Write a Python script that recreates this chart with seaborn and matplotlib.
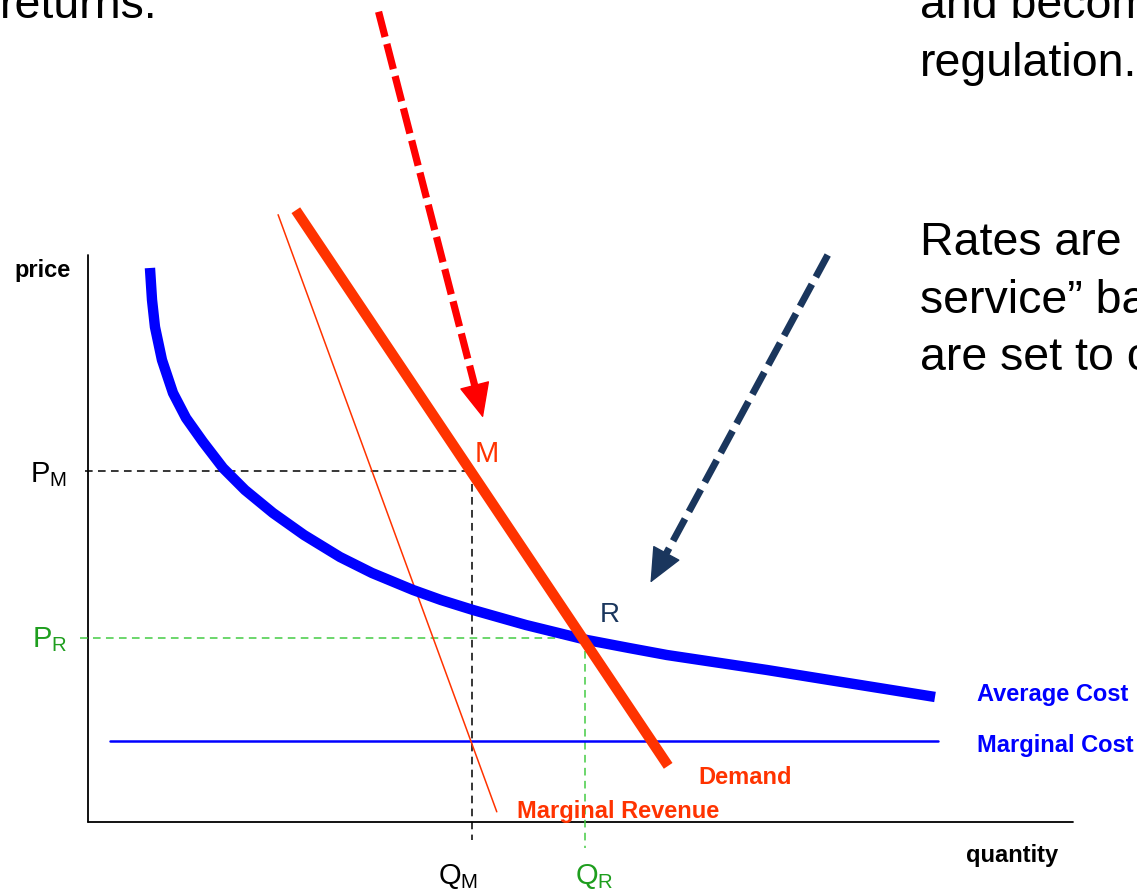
#!/usr/bin/env python3
# plot.py
# ---------------------------------------------------------
# Natural monopoly diagram: average cost, marginal cost,
# demand and marginal revenue, with monopoly point M and
# regulated point R.
# ---------------------------------------------------------

import numpy as np
import pandas as pd
import seaborn as sns
import matplotlib.pyplot as plt

sns.set_theme(style="white")
plt.rcParams['font.family'] = ['Liberation Sans', 'DejaVu Sans']
plt.rcParams['mathtext.fontset'] = 'custom'
plt.rcParams['mathtext.rm'] = 'Liberation Sans'

# --- Data (quantity / price units) ---
ac_q = [6.29, 6.50, 6.80, 7.51, 8.63, 9.95, 11.68, 13.71, 15.94, 18.78, 21.93,
        25.58, 28.83, 33.00, 35.84, 39.09, 44.47, 50.66, 54.92, 58.78, 68.93,
        77.16, 85.99]
ac_p = [97.71, 92.06, 87.30, 81.48, 75.66, 71.25, 67.02, 62.43, 58.55, 54.50,
        50.62, 46.74, 43.92, 40.92, 39.15, 37.39, 34.74, 32.10, 30.69, 29.45,
        26.81, 24.51, 22.05]

demand_q = [21.1, 58.9]
demand_p = [107.9, 9.9]

mr_q = [19.3, 41.5]
mr_p = [107.1, 1.8]

mc_q = [2.2, 86.3]
mc_level = 14.3

q_m, p_m = 39.0, 61.9      # monopoly point M
q_r, p_r = 50.5, 32.5      # regulated point R

axis_max_q, axis_max_p = 100, 100

red_arrow = {'q': [29.5, 40.1], 'p': [142.9, 71.3]}
navy_arrow = {'q': [75.1, 57.1], 'p': [100.0, 42.2]}

# --- Colours ---
BLUE = '#0000FF'
ORANGE = '#FF3300'
RED = '#FF0000'
NAVY = '#1A365D'
GREEN_TXT = '#1E9E1E'
GREEN_DASH = '#44CC44'

W, H = 1137, 891
fig = plt.figure(figsize=(W / 100, H / 100), dpi=100)
ax = fig.add_axes([0, 0, 1, 1])
# origin of the diagram sits at pixel (88, 822); 9.85 px per q unit, 5.67 px per p unit
ax.set_xlim(-88 / 9.85, (W - 88) / 9.85)
ax.set_ylim(-(H - 822) / 5.67, 822 / 5.67)
ax.axis('off')


def line(q, p, **kw):
    df = pd.DataFrame({'q': q, 'p': p})
    sns.lineplot(data=df, x='q', y='p', sort=False, estimator=None, ax=ax,
                 legend=False, **kw)
    return ax.lines[-1]


def dashed(q, p, color, lw):
    ln = line(q, p, color=color, lw=lw)
    ln.set_linestyle((0, (5, 3.5)))


def arrow(data, color, lw, dashes, head_frac):
    q = np.array(data['q'])
    p = np.array(data['p'])
    base_q = q[1] + (q[0] - q[1]) * head_frac
    base_p = p[1] + (p[0] - p[1]) * head_frac
    ln = line([q[0], base_q], [p[0], base_p], color=color, lw=lw)
    ln.set_linestyle((0, dashes))
    ln.set_dash_capstyle('butt')
    ax.annotate('', xy=(q[1], p[1]), xytext=(base_q, base_p),
                arrowprops=dict(arrowstyle='-|>,head_length=1.9,head_width=0.85',
                                color=color, lw=1, shrinkA=0, shrinkB=0))


# axes
line([0, 0], [0, axis_max_p], color='black', lw=1.3)
line([0, axis_max_q], [0, 0], color='black', lw=1.3)

# guide lines
dashed([-0.3, q_m], [p_m, p_m], 'black', 1.1)
dashed([q_m, q_m], [p_m, -3.2], 'black', 1.1)
dashed([-0.8, q_r], [p_r, p_r], GREEN_DASH, 1.1)
dashed([q_r, q_r], [p_r, -4.6], GREEN_DASH, 1.1)

# curves
line(mc_q, [mc_level, mc_level], color=BLUE, lw=1.8)
line(mr_q, mr_p, color=ORANGE, lw=1.1)
ac = line(ac_q, ac_p, color=BLUE, lw=7.5)
ac.set_solid_capstyle('butt')
ac.set_solid_joinstyle('round')
dem = line(demand_q, demand_p, color=ORANGE, lw=7.5)
dem.set_solid_capstyle('butt')

# arrows
arrow(red_arrow, RED, 5.2, (3.6, 1.0), 0.06)
arrow(navy_arrow, NAVY, 5.0, (3.6, 1.2), 0.067)


def label(x, y, s, **kw):
    fig.text(x / W, 1 - y / H, s, va='baseline', ha='left', **kw)


# slide text (clipped at figure edges, as on the slide)
big = dict(fontsize=33.5, color='black')
label(0, 18, 'returns.', **big)
label(920, 18, 'and become subject to', **big)
label(920, 76, 'regulation.', **big)
label(920, 255, 'Rates are', **big)
label(920, 313, 'service” basis: prices', **big)
label(920, 370, 'are set to cover costs.', **big)

# diagram labels
bold = dict(fontsize=17, fontweight='bold')
label(14, 277, 'price', color='black', **bold)
label(966, 862, 'quantity', color='black', **bold)
label(977, 701, 'Average Cost', color=BLUE, **bold)
label(977, 752, 'Marginal Cost', color=BLUE, **bold)
label(698, 784, 'Demand', color=ORANGE, **bold)
label(517, 818, 'Marginal Revenue', color=ORANGE, **bold)

label(30, 482, r'$\mathregular{P_M}$', fontsize=21, color='black')
label(32, 647, r'$\mathregular{P_R}$', fontsize=21, color=GREEN_TXT)
label(438, 884, r'$\mathregular{Q_M}$', fontsize=21, color='black')
label(575, 884, r'$\mathregular{Q_R}$', fontsize=21, color=GREEN_TXT)
label(475, 462, 'M', fontsize=21, color=ORANGE)
label(600, 622, 'R', fontsize=20, color=NAVY)

fig.savefig('out.png', dpi=100)
